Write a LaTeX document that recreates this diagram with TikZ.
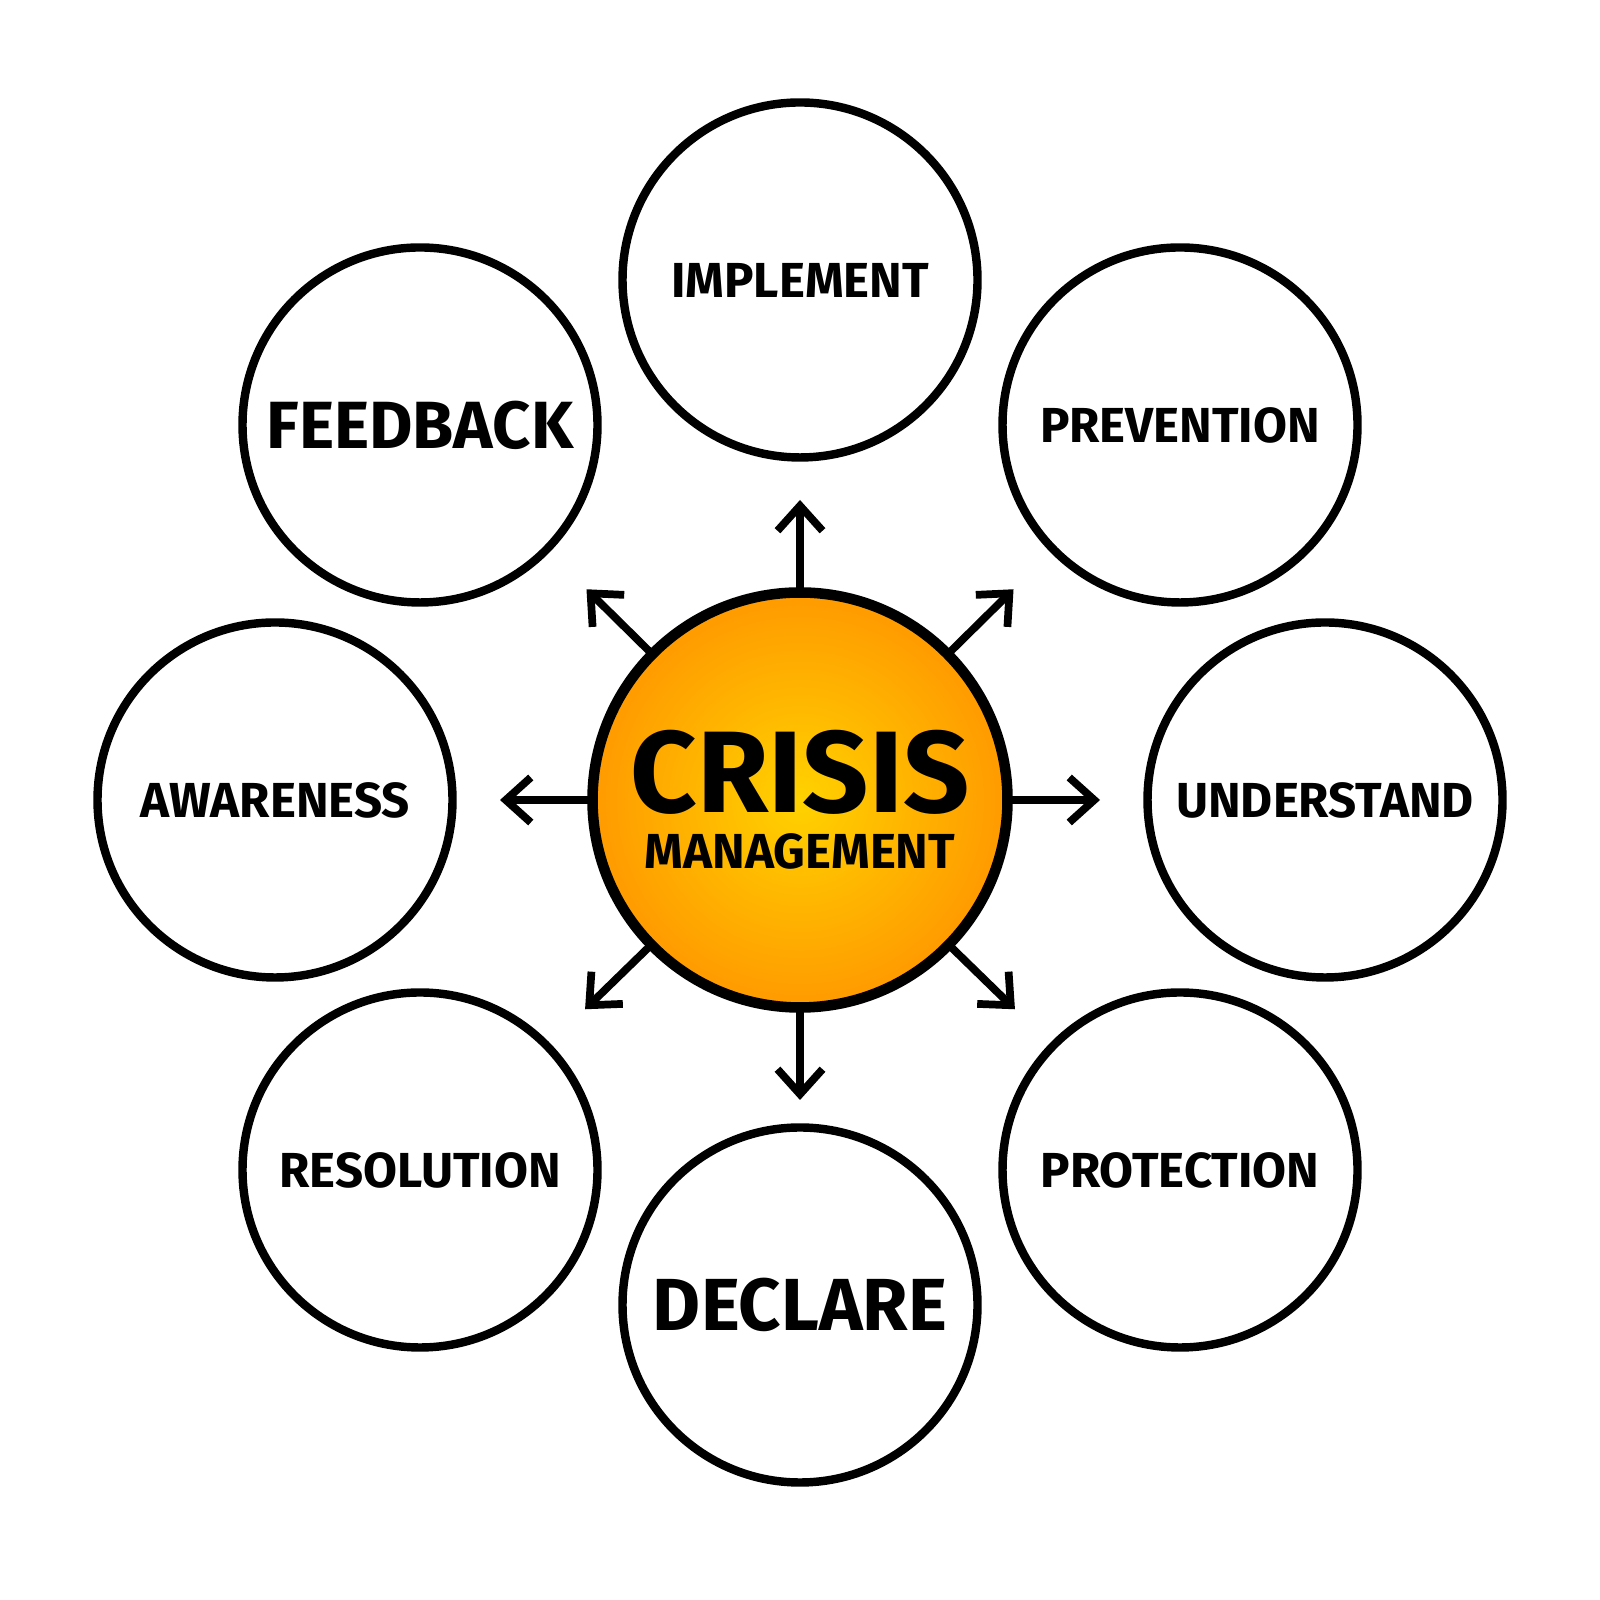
\documentclass[tikz,border=0pt]{standalone}
\usepackage{fontspec}
\setmainfont{Fira Sans}
\usetikzlibrary{calc,positioning,arrows.meta}
\tikzstyle{topic_circle}=[circle,
        minimum size=3.55cm,
        inner sep=0pt,
        draw=black,
        line width=2.4pt,
        fill=white,
        font=\bfseries\fontsize{14}{14}\selectfont]
\tikzstyle{spoke}=[-{Straight Barb[length=2.5mm,width=4.5mm]}, line width=2.2pt]
\definecolor{CoreInner}{HTML}{FFD200}
\definecolor{CoreOuter}{HTML}{FF9A00}

\begin{document}
\begin{tikzpicture}
    \useasboundingbox (0,0) rectangle (16,16);
    \node at (8.0, 8.0) (core) [circle, minimum size=4.15cm, inner sep=0pt, draw=black, line width=3pt,
        inner color=CoreInner, outer color=CoreOuter, align=center]
        {{\bfseries\fontsize{33}{33}\selectfont CRISIS}\\[4pt]{\bfseries\fontsize{14}{14}\selectfont MANAGEMENT}};

    \foreach \nm/\x/\y/\txt in {impl/8.0/13.2/IMPLEMENT, prev/11.8/11.75/PREVENTION,
            und/13.25/8.0/UNDERSTAND, prot/11.8/4.3/PROTECTION,
            aware/2.75/8.0/AWARENESS, res/4.2/4.3/RESOLUTION} {
        \node at (\x, \y) (\nm) [topic_circle] {\txt};
    }
    \node at (4.2, 11.75) (feed) [topic_circle, font=\bfseries\fontsize{19}{19}\selectfont] {FEEDBACK};
    \node at (8.0, 2.95) (decl) [topic_circle, font=\bfseries\fontsize{21}{21}\selectfont] {DECLARE};

    % spokes from the core
    \foreach \nm in {impl,prev,und,prot,decl,res,aware,feed} {
        \coordinate (tip-\nm) at ($(core)!3.0cm!(\nm)$);
        \draw[spoke] ($(core)!2.08cm!(\nm)$) -- (tip-\nm);
    }

\end{tikzpicture}
\end{document}
